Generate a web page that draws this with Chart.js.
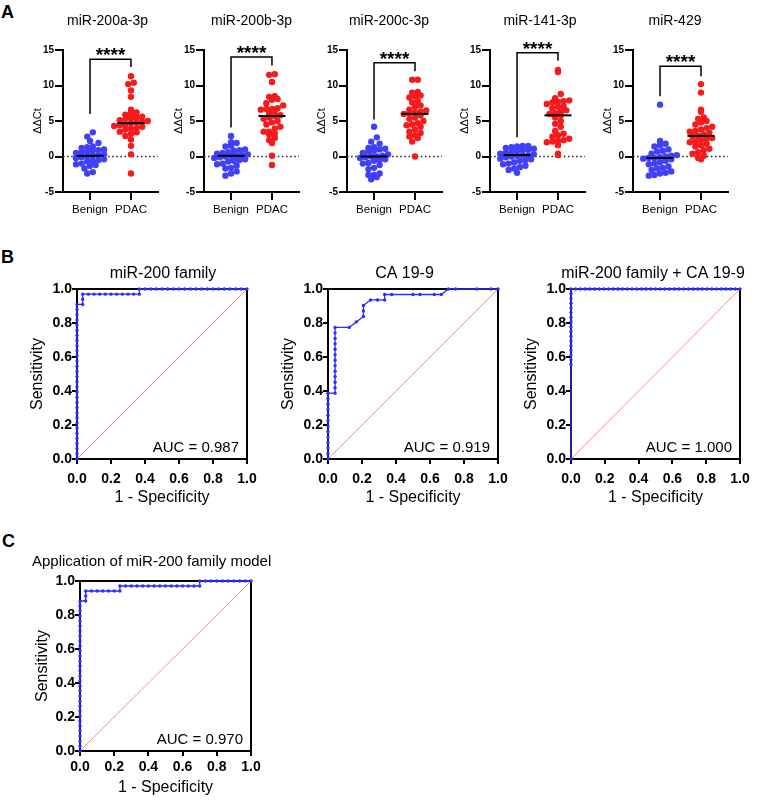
<!DOCTYPE html>
<html><head><meta charset="utf-8">
<script src="https://cdn.jsdelivr.net/npm/chart.js@4.4.1/dist/chart.umd.min.js"></script>
<style>
html,body{margin:0;padding:0;background:#fff;}
body{width:762px;height:800px;position:relative;overflow:hidden;font-family:"Liberation Sans",Arial,sans-serif;}
canvas{position:absolute;}
.panel{position:absolute;font-weight:bold;font-size:18px;line-height:18px;color:#000;}
</style></head><body>
<div class="panel" style="left:1px;top:3px">A</div>
<div class="panel" style="left:1px;top:248px">B</div>
<div class="panel" style="left:2px;top:532px">C</div>
<script>
// ---------------- DATA ----------------
const groupLabels = ['Benign', 'PDAC'];
const mirNames = ['miR-200a-3p', 'miR-200b-3p', 'miR-200c-3p', 'miR-141-3p', 'miR-429'];
const ddctLabel = 'ΔΔCt';
const ddctTicks = [-5, 0, 5, 10, 15];
const ddctRange = [-5, 15];

const benign200a = [3.4, 2.8, 2.2, 1.9, 1.4, 1.3, 1.2, 1.0, 0.9, 0.8, 0.7, 0.6, 0.5, 0.3, 0.2, 0.1, 0.0, -0.1, -0.2, -0.4, -0.5, -0.6, -0.7, -1.0, -1.1, -1.2, -1.3, -1.7, -2.2, -2.4];
const pdac200a = [11.3, 10.4, 10.2, 9.3, 8.4, 6.6, 6.2, 6.0, 5.9, 5.6, 5.5, 5.4, 5.3, 5.1, 5.0, 4.9, 4.8, 4.7, 4.5, 4.4, 4.3, 4.2, 4.0, 3.9, 3.8, 3.5, 3.4, 3.2, 2.9, 2.4, 1.5, 0.3, -2.4];
const benign200b = [2.9, 2.0, 1.9, 1.5, 1.4, 1.0, 0.9, 0.8, 0.6, 0.5, 0.4, 0.3, 0.2, 0.1, 0.1, 0.0, -0.1, -0.2, -0.4, -0.5, -0.6, -0.7, -1.0, -1.1, -1.3, -1.6, -1.7, -2.1, -2.4, -2.7];
const pdac200b = [11.6, 11.5, 10.5, 8.5, 8.4, 8.1, 8.0, 7.5, 7.2, 6.8, 6.7, 6.7, 6.6, 6.3, 6.0, 5.8, 5.7, 5.5, 5.3, 5.0, 4.8, 4.5, 4.2, 3.9, 3.5, 3.5, 3.2, 3.1, 2.6, 2.3, 1.9, 0.1, -1.2];
const benign200c = [4.2, 2.7, 2.1, 1.8, 1.3, 1.2, 1.1, 1.0, 0.8, 0.7, 0.5, 0.3, 0.1, 0.0, 0.0, -0.1, -0.2, -0.4, -0.5, -0.6, -0.9, -1.0, -1.2, -1.6, -1.8, -2.4, -2.6, -2.6, -2.9, -3.2];
const pdac200c = [10.8, 10.8, 9.1, 9.0, 8.6, 8.5, 8.3, 7.8, 7.6, 7.2, 7.0, 6.6, 6.5, 6.3, 6.2, 6.1, 6.0, 5.8, 5.5, 5.3, 5.0, 4.7, 4.5, 4.4, 4.2, 3.8, 3.5, 3.3, 3.0, 2.8, 2.6, 2.1, 0.0];
const benign141 = [1.5, 1.5, 1.4, 1.3, 1.2, 1.1, 1.0, 0.9, 0.8, 0.6, 0.5, 0.4, 0.3, 0.2, 0.2, 0.1, 0.0, -0.1, -0.3, -0.4, -0.5, -0.6, -0.8, -1.0, -1.1, -1.3, -1.5, -1.7, -1.9, -2.3];
const pdac141 = [12.2, 11.9, 8.8, 8.2, 7.9, 7.8, 7.7, 7.6, 7.4, 7.1, 7.0, 6.8, 6.5, 6.3, 6.1, 6.0, 5.8, 5.5, 5.0, 4.6, 4.2, 3.6, 3.2, 3.0, 2.8, 2.5, 2.3, 2.2, 2.1, 2.0, 1.6, 0.4, 0.2];
const benign429 = [7.3, 2.2, 1.8, 1.6, 1.4, 1.0, 0.8, 0.7, 0.4, 0.2, 0.1, 0.0, -0.1, -0.2, -0.2, -0.3, -0.4, -0.6, -0.8, -1.0, -1.1, -1.4, -1.6, -1.7, -1.9, -2.1, -2.3, -2.4, -2.6, -2.7];
const pdac429 = [10.2, 9.0, 6.6, 6.3, 5.5, 5.3, 5.0, 4.8, 4.5, 4.2, 4.0, 3.8, 3.6, 3.5, 3.3, 3.1, 2.9, 2.8, 2.6, 2.5, 2.3, 2.1, 2.0, 1.8, 1.6, 1.4, 1.1, 0.9, 0.6, 0.4, 0.1, -0.2, -0.4];

const median200a = [0.1, 4.7];
const median200b = [0.1, 5.7];
const median200c = [0.0, 6.0];
const median141 = [0.2, 5.8];
const median429 = [-0.2, 2.9];

// significance bracket: [benign leg bottom, bar level, PDAC leg bottom]
const bracket200a = [6.0, 13.7, 12.6];
const bracket200b = [4.1, 14.0, 12.8];
const bracket200c = [5.2, 13.2, 12.0];
const bracket141 = [2.7, 14.6, 13.5];
const bracket429 = [8.5, 12.7, 11.3];
const sigStars = '****';

const rocTitles = ['miR-200 family', 'CA 19-9', 'miR-200 family + CA 19-9'];
const appTitle = 'Application of miR-200 family model';
const aucLabels = ['AUC = 0.987', 'AUC = 0.919', 'AUC = 1.000', 'AUC = 0.970'];
const rocTicks = [0, 0.2, 0.4, 0.6, 0.8, 1.0];
const sensLabel = 'Sensitivity';
const specLabel = '1 - Specificity';

// ROC points as counts: false positives (of benign n) and true positives (of PDAC n)
const famBenignN = 30, famPdacN = 33;
const famFP = [0,0,0,0,0,0,0,0,0,0,0,0,0,0,0,0,0,0,0,0,0,0,0,0,0,0,0,0,0,0,0, 1,1,1, 2,3,4,5,6,7,8,9,10,11, 11, 12,13,14,15,16,17,18,19,20,21,22,23,24,25,26,27,28,29,30];
const famTP = [0,1,2,3,4,5,6,7,8,9,10,11,12,13,14,15,16,17,18,19,20,21,22,23,24,25,26,27,28,29,30, 30,31,32, 32,32,32,32,32,32,32,32,32,32, 33, 33,33,33,33,33,33,33,33,33,33,33,33,33,33,33,33,33,33,33];

const caBenignN = 24, caPdacN = 31;
const caFP = [0,0,0,0,0,0,0,0,0,0,0,0,0, 1,1,1,1,1,1,1,1,1,1,1,1,1, 3,4,5,5,5,6,7,8,8,9,12,13,15,16,17,18,21,23,24];
const caTP = [0,1,2,3,4,5,6,7,8,9,10,11,12, 12,13,14,15,16,17,18,19,20,21,22,23,24, 24,25,26,27,28,29,29,29,30,30,30,30,30,30,31,31,31,31,31];

const combBenignN = 36, combPdacN = 36;
const combFP = [0, 0,0,0,0,0,0,0,0,0,0,0,0,0,0,0,0,0, 1,2,3,4,5,6,7,8,9,10,11,12,13,14,15,16,17,18,19,20,21,22,23,24,25,26,27,28,29,30,31,32,33,34,35,36];
const combTP = [0, 20,21,22,23,24,25,26,27,28,29,30,31,32,33,34,35,36, 36,36,36,36,36,36,36,36,36,36,36,36,36,36,36,36,36,36,36,36,36,36,36,36,36,36,36,36,36,36,36,36,36,36,36,36];

const appBenignN = 30, appPdacN = 34;
const appFP = [0,0,0,0,0,0,0,0,0,0,0,0,0,0,0,0,0,0,0,0,0,0,0,0,0,0,0,0,0,0,0, 1,1,1, 2,3,4,5,6,7, 7, 8,9,10,11,12,13,14,15,16,17,18,19,20,21, 21, 22,23,24,25,26,27,28,29,30];
const appTP = [0,1,2,3,4,5,6,7,8,9,10,11,12,13,14,15,16,17,18,19,20,21,22,23,24,25,26,27,28,29,30, 30,31,32, 32,32,32,32,32,32, 33, 33,33,33,33,33,33,33,33,33,33,33,33,33,33, 34, 34,34,34,34,34,34,34,34,34];

// ---------------- LAYOUT / STYLE ----------------
const FONT = '"Liberation Sans", Arial, Helvetica, sans-serif';
Chart.defaults.font.family = FONT;
Chart.defaults.color = '#000';
Chart.defaults.animation = false;

const BLUE_DOT = 'rgb(64,64,248)';
const RED_DOT = 'rgb(246,26,26)';
const ROC_BLUE = 'rgb(45,45,255)';
const DIAG = 'rgba(255,110,110,0.9)';

const layoutA = { lefts: [63, 204, 347, 490, 633], width: 95, top: 50, bottom: 192,
  titleCX: [107.5, 251.5, 389, 540, 675], titleCY: 21 };

function makeCanvas(left, top, w, h) {
  const c = document.createElement('canvas');
  c.width = w; c.height = h;
  c.style.left = left + 'px'; c.style.top = top + 'px';
  c.style.width = w + 'px'; c.style.height = h + 'px';
  document.body.appendChild(c);
  return c;
}

function geometry(g) {
  let canvasLeft, W, Y, K;
  if (g.titleAlign === 'start') {
    canvasLeft = g.titleLeft; Y = g.l - canvasLeft; K = g.kRight; W = Math.round(g.r + K - canvasLeft);
  } else {
    Y = Math.max(g.yMin, g.r + g.l - 2 * g.titleCX + 10);
    canvasLeft = g.l - Y; W = Math.round(2 * (g.titleCX - canvasLeft)); K = canvasLeft + W - g.r;
  }
  const canvasTop = Math.floor(g.titleCY - 0.6 * g.titleSize);
  const tPadTop = g.titleCY - 0.6 * g.titleSize - canvasTop;
  const tPadBottom = g.t - canvasTop - tPadTop - 1.2 * g.titleSize;
  let canvasBottom, xPadBottom = 0;
  if (g.xTitle) {
    canvasBottom = Math.ceil(g.xTitleCY + 0.6 * g.xTitleSize);
    xPadBottom = canvasBottom - (g.xTitleCY + 0.6 * g.xTitleSize);
  } else {
    canvasBottom = g.b + 30;
  }
  const X = canvasBottom - g.b;
  const yTitlePad = g.yTitleCX - canvasLeft - 0.6 * g.yTitleSize;
  return { canvasLeft, canvasTop, W, H: canvasBottom - canvasTop, Y, K, X, tPadTop, tPadBottom, xPadBottom, yTitlePad };
}

function buildScales(g, geo) {
  const gridBase = { drawOnChartArea: false, drawTicks: true, tickWidth: 2, tickColor: '#000', lineWidth: 2, color: '#000' };
  return {
    x: {
      type: 'linear', position: 'bottom', min: g.xRange[0], max: g.xRange[1],
      afterFit: s => { s.height = geo.X; },
      afterBuildTicks: s => { s.ticks = g.xTicks.map(v => ({ value: v })); },
      ticks: { callback: g.xLabel, font: g.xTickFont, padding: g.xTickPad, maxRotation: 0, autoSkip: false, color: '#000' },
      grid: Object.assign({}, gridBase, { tickLength: g.tickLen }),
      border: { display: true, color: '#000', width: 2 },
      title: g.xTitle ? { display: true, text: g.xTitle, font: { size: g.xTitleSize }, padding: { top: 0, bottom: geo.xPadBottom }, color: '#000' } : { display: false }
    },
    y: {
      type: 'linear', position: 'left', min: g.yRange[0], max: g.yRange[1],
      afterFit: s => { s.width = geo.Y; },
      afterBuildTicks: s => { s.ticks = g.yTicks.map(v => ({ value: v })); },
      ticks: { callback: g.yLabel, font: g.yTickFont, padding: g.yTickPad, autoSkip: false, color: '#000' },
      grid: Object.assign({}, gridBase, { tickLength: g.tickLen }),
      border: { display: true, color: '#000', width: 2 },
      title: { display: true, text: g.yTitle, font: { size: g.yTitleSize }, padding: { top: geo.yTitlePad, bottom: 0 }, color: '#000' }
    },
    xTop: {
      type: 'linear', position: 'top', min: g.xRange[0], max: g.xRange[1],
      afterFit: s => { s.height = 0; },
      ticks: { display: false }, grid: { display: false, drawTicks: false },
      border: { display: !!g.frame, color: '#000', width: 2 }
    },
    yRight: {
      type: 'linear', position: 'right', min: g.yRange[0], max: g.yRange[1],
      afterFit: s => { s.width = geo.K; },
      ticks: { display: false }, grid: { display: false, drawTicks: false },
      border: { display: !!g.frame, color: '#000', width: 2 }
    }
  };
}

function titleOpts(g, geo) {
  return { display: true, text: g.title, align: g.titleAlign === 'start' ? 'start' : 'center', fullSize: true,
    font: { size: g.titleSize, weight: 'normal' }, padding: { top: geo.tPadTop, bottom: geo.tPadBottom }, color: '#000' };
}

// row-binned dot placement (horizontal offsets only; y stays the data value)
function rowOffsets(values, center, pxX, pxY, rowH, dotGap) {
  const rows = new Map();
  values.forEach((v, k) => {
    const bin = Math.round(v * pxY / rowH);
    if (!rows.has(bin)) rows.set(bin, []);
    rows.get(bin).push(k);
  });
  const out = new Array(values.length);
  rows.forEach(list => {
    list.sort((a, b) => values[a] - values[b]);
    const n = list.length;
    list.forEach((k, j) => { out[k] = center + ((j - (n - 1) / 2) * dotGap) / pxX; });
  });
  return out;
}

const benignSets = [benign200a, benign200b, benign200c, benign141, benign429];
const pdacSets = [pdac200a, pdac200b, pdac200c, pdac141, pdac429];
const medianSets = [median200a, median200b, median200c, median141, median429];
const bracketSets = [bracket200a, bracket200b, bracket200c, bracket141, bracket429];

function scatterPanel(i) {
  const xRange = [-0.66, 1.66];
  const g = {
    l: layoutA.lefts[i], r: layoutA.lefts[i] + layoutA.width, t: layoutA.top, b: layoutA.bottom,
    title: mirNames[i], titleSize: 14, titleCX: layoutA.titleCX[i], titleCY: layoutA.titleCY,
    yTitle: ddctLabel, yTitleSize: 11, yTitleCX: layoutA.lefts[i] - 25, yMin: 40,
    xRange, yRange: ddctRange, xTicks: [0, 1], yTicks: ddctTicks,
    xLabel: v => groupLabels[v], yLabel: v => String(v),
    xTickFont: { size: 11.5 }, yTickFont: { size: 10, weight: 'bold' },
    xTickPad: 3, yTickPad: 1, tickLen: 8, frame: false
  };
  const geo = geometry(g);
  const cv = makeCanvas(geo.canvasLeft, geo.canvasTop, geo.W, geo.H);
  const pxX = (g.r - g.l) / (xRange[1] - xRange[0]);
  const pxY = (g.b - g.t) / (ddctRange[1] - ddctRange[0]);
  const xsB = rowOffsets(benignSets[i], 0, pxX, pxY, 5.5, 5.6);
  const xsP = rowOffsets(pdacSets[i], 1, pxX, pxY, 5.5, 5.6);
  const med = medianSets[i], br = bracketSets[i];
  const lineDs = (data, extra) => Object.assign({ data, showLine: true, borderColor: '#000', borderWidth: 2, pointRadius: 0, clip: false, xAxisID: 'x', yAxisID: 'y' }, extra || {});
  new Chart(cv, {
    type: 'scatter',
    data: { datasets: [
      lineDs([{ x: -0.33, y: med[0] }, { x: 0.33, y: med[0] }]),
      lineDs([{ x: 0.67, y: med[1] }, { x: 1.33, y: med[1] }]),
      lineDs([{ x: 0, y: br[0] }, { x: 0, y: br[1] }, { x: 1, y: br[1] }, { x: 1, y: br[2] }], { borderWidth: 1.5 }),
      { data: benignSets[i].map((v, k) => ({ x: xsB[k], y: v })), pointRadius: 3.2, pointBackgroundColor: BLUE_DOT, pointBorderWidth: 0, xAxisID: 'x', yAxisID: 'y', clip: false },
      { data: pdacSets[i].map((v, k) => ({ x: xsP[k], y: v })), pointRadius: 3.2, pointBackgroundColor: RED_DOT, pointBorderWidth: 0, xAxisID: 'x', yAxisID: 'y', clip: false },
      lineDs([{ x: xRange[0], y: 0 }, { x: xRange[1], y: 0 }], { borderWidth: 1.4, borderDash: [1.5, 2.6], borderColor: '#222' })
    ] },
    options: {
      responsive: false, devicePixelRatio: 1, animation: false,
      layout: { padding: 0, autoPadding: false },
      scales: buildScales(g, geo),
      plugins: { legend: { display: false }, tooltip: { enabled: false }, title: titleOpts(g, geo) }
    },
    plugins: [{ id: 'sig', afterDatasetsDraw(chart) {
      const ctx = chart.ctx, xs = chart.scales.x, ys = chart.scales.y;
      ctx.save();
      ctx.font = 'bold 19px ' + FONT; ctx.fillStyle = '#000';
      ctx.textAlign = 'center'; ctx.textBaseline = 'alphabetic';
      ctx.fillText(sigStars, xs.getPixelForValue(0.5), ys.getPixelForValue(br[1]) + 2);
      ctx.restore();
    } }]
  });
}

function rocPanel(g, fp, tp, nB, nP, auc) {
  Object.assign(g, {
    xRange: [0, 1], yRange: [0, 1], xTicks: rocTicks, yTicks: rocTicks,
    xLabel: v => v.toFixed(1), yLabel: v => v.toFixed(1),
    xTickFont: { size: 14, weight: 'bold' }, yTickFont: { size: 14, weight: 'bold' },
    yTickPad: 0, tickLen: 5, frame: true, yMin: 50,
    yTitle: sensLabel, yTitleSize: 16, xTitle: specLabel, xTitleSize: 16
  });
  const geo = geometry(g);
  const cv = makeCanvas(geo.canvasLeft, geo.canvasTop, geo.W, geo.H);
  new Chart(cv, {
    type: 'scatter',
    data: { datasets: [
      { data: fp.map((f, k) => ({ x: f / nB, y: tp[k] / nP })), showLine: true, borderColor: ROC_BLUE, borderWidth: 1.3,
        pointRadius: 1.7, pointBackgroundColor: ROC_BLUE, pointBorderWidth: 0, clip: false, xAxisID: 'x', yAxisID: 'y' },
      { data: [{ x: 0, y: 0 }, { x: 1, y: 1 }], showLine: true, borderColor: DIAG, borderWidth: 0.9, pointRadius: 0, xAxisID: 'x', yAxisID: 'y' }
    ] },
    options: {
      responsive: false, devicePixelRatio: 1, animation: false,
      layout: { padding: 0, autoPadding: false },
      scales: buildScales(g, geo),
      plugins: { legend: { display: false }, tooltip: { enabled: false }, title: titleOpts(g, geo) }
    },
    plugins: [{ id: 'auc', afterDatasetsDraw(chart) {
      const ctx = chart.ctx, a = chart.chartArea;
      ctx.save();
      ctx.font = '15px ' + FONT; ctx.fillStyle = '#000';
      ctx.textAlign = 'right'; ctx.textBaseline = 'middle';
      ctx.fillText(auc, a.right - 8, a.bottom - 11);
      ctx.restore();
    } }]
  });
}

for (let i = 0; i < 5; i++) scatterPanel(i);

rocPanel({ l: 77, r: 247, t: 289, b: 459, title: rocTitles[0], titleSize: 16, titleCX: 163, titleCY: 274,
  yTitleCX: 38, xTitleCY: 498, xTickPad: 7 }, famFP, famTP, famBenignN, famPdacN, aucLabels[0]);
rocPanel({ l: 328, r: 498, t: 289, b: 459, title: rocTitles[1], titleSize: 16, titleCX: 404.5, titleCY: 274,
  yTitleCX: 289, xTitleCY: 498, xTickPad: 7 }, caFP, caTP, caBenignN, caPdacN, aucLabels[1]);
rocPanel({ l: 571, r: 740, t: 289, b: 459, title: rocTitles[2], titleSize: 16, titleCX: 653, titleCY: 274,
  yTitleCX: 532, xTitleCY: 498, xTickPad: 7 }, combFP, combTP, combBenignN, combPdacN, aucLabels[2]);
rocPanel({ l: 80, r: 251, t: 581, b: 751, title: appTitle, titleSize: 15, titleAlign: 'start', titleLeft: 32, kRight: 40,
  titleCY: 562, yTitleCX: 43, xTitleCY: 788, xTickPad: 3 }, appFP, appTP, appBenignN, appPdacN, aucLabels[3]);
</script>
</body></html>
